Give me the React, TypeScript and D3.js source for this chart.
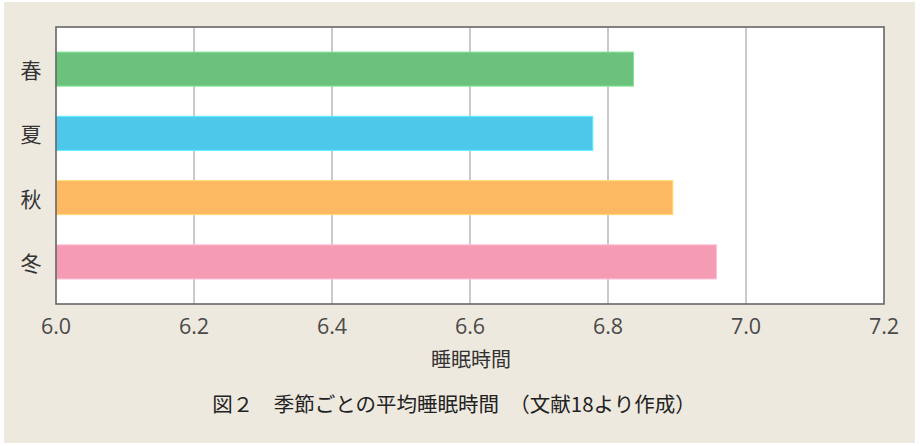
import { useEffect, useRef } from "react";
import * as d3 from "d3";

const seasons = ["春", "夏", "秋", "冬"];
const sleepHours = [6.837, 6.778, 6.894, 6.957];
const barColors = ["#6cc27c", "#4dc8ea", "#fdb962", "#f59bb3"];
const xTicks = [6.0, 6.2, 6.4, 6.6, 6.8, 7.0, 7.2];
const xTitle = "睡眠時間";
const caption = "図２　季節ごとの平均睡眠時間　（文献18より作成）";

const W = 920;
const H = 446;
const FONT = "'Noto Sans CJK JP', 'Noto Sans', sans-serif";
const NUM_FONT = "'Open Sans', 'Noto Sans', sans-serif";

function App() {
  const svgRef = useRef<SVGSVGElement | null>(null);

  useEffect(() => {
    const svg: any = d3.select(svgRef.current);
    svg.selectAll("*").remove();

    const plot = { left: 56, right: 884, top: 27, bottom: 304 };

    // beige panel
    svg
      .append("rect")
      .attr("x", 4)
      .attr("y", 2)
      .attr("width", 911)
      .attr("height", 441)
      .attr("fill", "#eee9df");

    svg
      .append("rect")
      .attr("x", plot.left)
      .attr("y", plot.top)
      .attr("width", plot.right - plot.left)
      .attr("height", plot.bottom - plot.top)
      .attr("fill", "#ffffff");

    const x = d3.scaleLinear().domain([6.0, 7.2]).range([plot.left, plot.right]);
    const y = d3
      .scaleBand()
      .domain(seasons)
      .range([plot.top, plot.bottom])
      .paddingInner(0.47)
      .paddingOuter(0.39);

    // grid lines
    svg
      .append("g")
      .selectAll("line")
      .data(xTicks.slice(1, -1))
      .enter()
      .append("line")
      .attr("x1", (d: number) => x(d))
      .attr("x2", (d: number) => x(d))
      .attr("y1", plot.top)
      .attr("y2", plot.bottom)
      .attr("stroke", "#b8b8bc")
      .attr("stroke-width", 1.5);

    // bars
    svg
      .append("g")
      .selectAll("rect")
      .data(seasons)
      .enter()
      .append("rect")
      .attr("x", x(6.0))
      .attr("y", (d: string) => y(d))
      .attr("width", (_: string, i: number) => x(sleepHours[i]) - x(6.0))
      .attr("height", y.bandwidth())
      .attr("fill", (_: string, i: number) => barColors[i])
      .attr("stroke", (_: string, i: number) => d3.color(barColors[i])!.brighter(0.5).toString())
      .attr("stroke-width", 1);

    // frame
    svg
      .append("rect")
      .attr("x", plot.left)
      .attr("y", plot.top)
      .attr("width", plot.right - plot.left)
      .attr("height", plot.bottom - plot.top)
      .attr("fill", "none")
      .attr("stroke", "#666")
      .attr("stroke-width", 1.6);

    // y labels
    svg
      .append("g")
      .selectAll("text")
      .data(seasons)
      .enter()
      .append("text")
      .attr("x", 31)
      .attr("y", (d: string) => (y(d) as number) + y.bandwidth() / 2)
      .attr("text-anchor", "middle")
      .attr("dominant-baseline", "central")
      .style("font-family", FONT)
      .style("font-size", "21px")
      .style("fill", "#333")
      .text((d: string) => d);

    // x tick labels
    svg
      .append("g")
      .selectAll("text")
      .data(xTicks)
      .enter()
      .append("text")
      .attr("x", (d: number) => x(d))
      .attr("y", 325)
      .attr("text-anchor", "middle")
      .attr("dominant-baseline", "central")
      .style("font-family", NUM_FONT)
      .style("font-size", "21.5px")
      .style("fill", "#4a4a4a")
      .text((d: number) => d3.format(".1f")(d));

    svg
      .append("text")
      .attr("x", 471)
      .attr("y", 358)
      .attr("text-anchor", "middle")
      .attr("dominant-baseline", "central")
      .style("font-family", FONT)
      .style("font-size", "20px")
      .style("fill", "#333")
      .text(xTitle);

    svg
      .append("text")
      .attr("x", 454)
      .attr("y", 403)
      .attr("text-anchor", "middle")
      .attr("dominant-baseline", "central")
      .style("font-family", FONT)
      .style("font-size", "20.5px")
      .style("fill", "#222")
      .text(caption);
  }, []);

  return (
    <svg
      ref={svgRef}
      width={W}
      height={H}
      style={{ position: "absolute", left: 0, top: 0, display: "block", background: "#fff" }}
    ></svg>
  );
}

export default App;
